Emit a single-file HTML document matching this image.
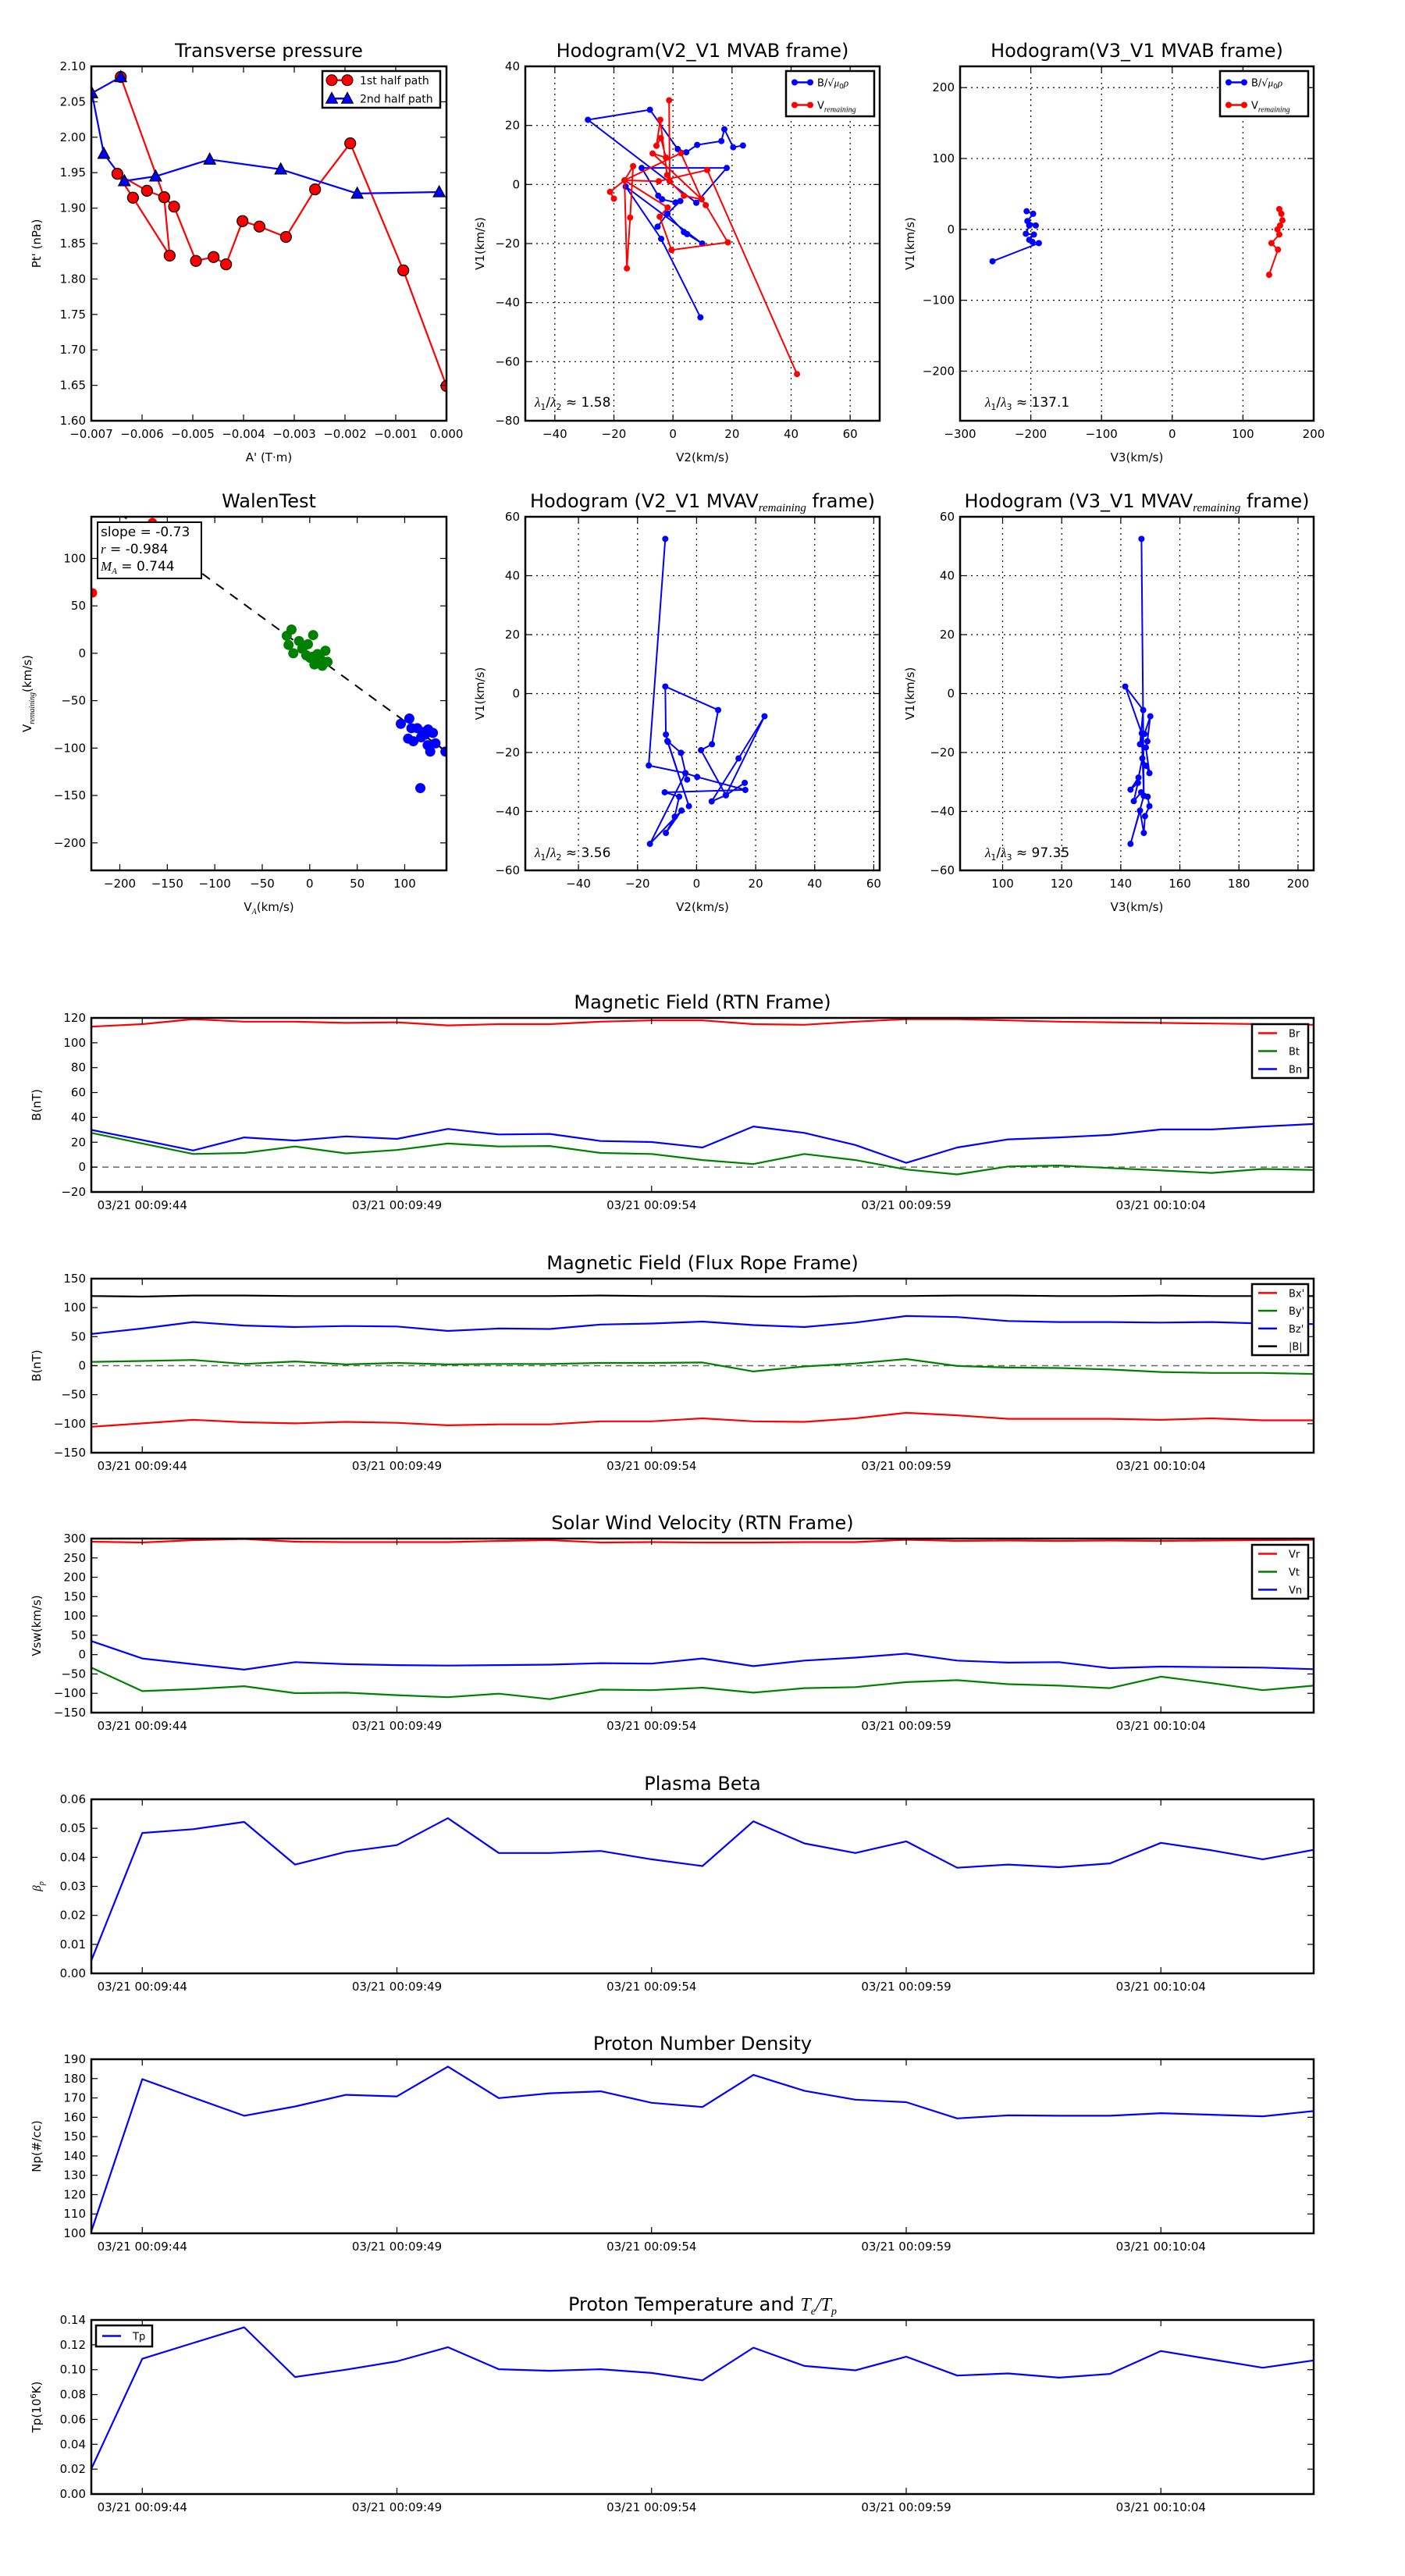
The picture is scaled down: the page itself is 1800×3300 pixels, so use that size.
<!DOCTYPE html>
<html><head><meta charset="utf-8"><style>
html,body{margin:0;padding:0;background:#fff;}
svg{display:block;font-family:"DejaVu Sans","Liberation Sans",sans-serif;}
</style></head><body>
<svg id="fig" xmlns="http://www.w3.org/2000/svg" width="1800" height="3300" viewBox="0 0 1800 3300"></svg>
<script>
// ---------- data ----------
const tpRedA=[-0.00642,-0.005564,-0.005456,-0.006179,-0.006487,-0.005903,-0.005564,-0.005369,-0.004938,-0.00459,-0.004344,-0.00402,-0.003687,-0.003164,-0.00259,-0.001897,-0.000851,0];
const tpRedP=[2.085,1.9154,1.833,1.9147,1.9484,1.9245,1.9154,1.9021,1.8255,1.831,1.8207,1.8817,1.874,1.8593,1.9264,1.9914,1.8122,1.649];
const tpBlueA=[-0.00642,-0.00699,-0.006754,-0.006349,-0.005733,-0.004667,-0.003267,-0.001759,-0.000144];
const tpBlueP=[2.085,2.0622,1.9767,1.9382,1.9448,1.9686,1.9547,1.9206,1.9227];

const h1BlueX=[23.7,20.4,17.4,16.4,8.2,4.5,1.6,-7.8,-28.8,7.9,18.2,-10.6,-5.0,-3.7,0.9,2.5,-1.9,-5.2,-1.9,3.7,4.8,9.9,-16.0,-4.0,9.3];
const h1BlueY=[13.2,12.6,18.7,14.7,13.4,10.9,12.0,25.3,21.9,-6.2,5.6,5.6,-3.8,-5.0,-6.1,-5.6,-9.9,-14.3,-9.9,-16.1,-16.8,-20.0,-0.7,-18.4,-45.0];
const h1RedX=[-20,-21.3,-16.4,-13.5,-14.5,-15.6,-16.4,-1.8,-4.5,-0.5,18.6,11.1,9.7,-6.9,-2.4,-4.1,-5.6,-4.3,-2.0,-1.1,-1.3,-1.1,3.7,9.7,2.7,-16.4,-4.8,11.6,42.0];
const h1RedY=[-4.8,-2.5,1.4,6.2,-11.2,-28.4,1.4,-7.8,-10.9,-22.2,-19.6,-7.0,-5.0,10.5,9.1,15.7,13.1,21.9,3.2,1.1,28.5,1.1,-3.8,-5.0,10.6,1.4,1.1,4.9,-64.2];

const h2BlueX=[-205.9,-196.7,-204.8,-193,-202.2,-207,-195.6,-202.2,-197.8,-188.6,-254.1];
const h2BlueY=[25.6,22,11.7,5.5,5.5,-6.2,-7.3,-14.7,-17.6,-19.4,-45];
const h2RedX=[151.4,154.3,155.8,152.5,148.8,151.4,140.3,149.5,137];
const h2RedY=[28.6,22,12.8,5.5,0,-7.3,-19.4,-28.6,-64.1];

const walenGreenX=[-19.2,-24.2,-22.3,-17.3,-11.3,-8,-1.9,3.6,-3.6,0.5,4.9,8.2,11.5,16.5,18.7,13.2,3.3];
const walenGreenY=[25,18.4,8.8,0,12.9,4.7,9.6,19.2,-2.2,-4.9,-11.8,-0.8,-6.3,2.7,-9.1,-13.2,-3.6];
const walenBlueX=[95.9,104.9,107.1,113.2,118.7,124.7,129.7,103.6,109.1,117.3,124.2,132.4,126.9,142.9,116.5,121.4];
const walenBlueY=[-74.4,-68.9,-79,-79,-83.2,-80.4,-84,-90,-92.8,-88.6,-96.9,-95,-103.7,-103.7,-142.2,-85.9];
const walenRedX=[-228.8,-165.7];
const walenRedY=[63.7,137.8];
const walenSlope=-0.73, walenIntercept=1.4;

const h3X=[-10.6,-16.2,-3.8,0.2,16.5,-10.8,-5.9,-7.4,-10.4,-5.1,-15.8,-3.8,-3.2,-5.3,-9.9,-2.6,-9.7,-10.4,-10.6,7.3,5.2,1.5,9.9,5.1,14.2,23,9.9,16.3];
const h3Y=[52.5,-24.4,-27,-28.3,-32.7,-33.5,-35,-41.8,-47.3,-39.7,-51,-27,-29.2,-20.1,-16.1,-38.2,-16.4,-13.9,2.4,-5.6,-17.2,-19.2,-34.5,-36.6,-22,-7.7,-34.5,-30.3];
const h4X=[147.0,147.8,143.3,146.5,147.8,148.2,149.7,149.1,146.9,144.4,145.8,143.3,146,147.3,148.6,149.7,148.5,149,150,148,146.5,147.6,141.5,147.1,147.8];
const h4Y=[52.5,-34.7,-51,-39.7,-47.3,-41.6,-38.2,-35,-33.5,-36.5,-30.3,-32.6,-28.5,-22,-24.5,-27,-18.3,-16.2,-7.7,-13.7,-17.2,-5.6,2.4,-13.5,-34.7];

// time series (1 s cadence starting 00:09:43)
const tsLabels=["03/21 00:09:44","03/21 00:09:49","03/21 00:09:54","03/21 00:09:59","03/21 00:10:04"];
const tsTickSec=[1,6,11,16,21];
const Br=[113,115,119,117,117,116,116.5,114,115,115,117,118,118,115,114.5,117,119,119,118,117,116.5,116,115.5,115,114.5];
const Bt=[27.5,19,10.6,11.4,16.6,11,13.8,19,16.6,17,11.4,10.6,5.7,2.5,10.6,5.7,-1.9,-5.9,0.5,1.3,-0.7,-2.7,-4.7,-1.5,-2.3];
const Bn=[29.9,21.8,13.4,23.9,21.4,24.7,22.7,30.7,26.3,26.7,21,20.2,15.8,32.7,27.5,17.8,3.4,15.8,22.3,23.9,25.9,30.3,30.3,32.7,34.7];
const Bx=[-105.4,-99.4,-93.3,-97.6,-99.4,-96.8,-98.5,-102.8,-101.1,-101.1,-95.9,-95.9,-90.8,-95.9,-96.8,-90.8,-81.3,-85.6,-91.6,-91.6,-91.6,-93.3,-90.8,-94.2,-94.2];
const By=[6.4,8.1,9.8,3,7.2,2.1,4.7,2.1,3,3,4.7,4.7,5.5,-10,-1.4,3.8,11.5,-0.6,-3.2,-4,-6.6,-10.9,-12.5,-12.5,-14.2];
const Bz=[54.6,64,75.2,69.2,66.6,68.3,67.5,59.8,64,63.2,70.9,72.6,76,70,66.6,74.3,85.5,83.8,76.9,75.2,75.2,74.3,75.2,72.6,71.7];
const Bmag=[120,119,121,121,120,120,120,120,120,120,121,120,120,119,119,120,120,121,121,120,120,121,120,120,120];
const Vr=[292,290,296,299,292,291,291,291,294,296,290,291,290,290,291,291,297,294,295,294,295,294,295,296,297];
const Vt=[-33.6,-94.4,-89.2,-81.5,-99.6,-98.3,-104.8,-110,-100.9,-115.1,-90.5,-91.8,-85.4,-98.3,-86.6,-84,-71.1,-66,-76.3,-80.2,-86.6,-56.9,-73.7,-91.8,-80.2];
const Vn=[35,-10,-24.6,-38.8,-19.4,-24.6,-27.2,-28.4,-27.2,-25.9,-22,-23.3,-10,-29.7,-15.5,-7.8,2.6,-15.5,-20.7,-19.4,-35,-31,-32.3,-33.6,-37.5];
const beta=[0.0044,0.0484,0.0497,0.0522,0.0375,0.0419,0.0442,0.0535,0.0415,0.0415,0.0422,0.0393,0.037,0.0524,0.0448,0.0415,0.0455,0.0364,0.0375,0.0366,0.0379,0.045,0.0424,0.0393,0.0426];
const Np=[101,179.7,170.2,160.8,165.6,171.6,170.8,186.2,169.9,172.4,173.4,167.5,165.3,181.9,173.7,169.1,167.8,159.4,161,160.8,160.8,162.1,161.3,160.5,163.2];
const Tp=[0.0202,0.1088,0.1215,0.1341,0.0941,0.1,0.1067,0.1181,0.1004,0.0991,0.1004,0.0974,0.0915,0.1177,0.103,0.0995,0.1105,0.0953,0.097,0.0936,0.0966,0.115,0.1083,0.1016,0.1075];

// ---------- helpers ----------
const NS='http://www.w3.org/2000/svg';
const fig=document.getElementById('fig');
function mk(tag,a,p){const e=document.createElementNS(NS,tag);for(const k in a)e.setAttribute(k,a[k]);(p||fig).appendChild(e);return e;}
function fmt(v,d){const s=Math.abs(v).toFixed(d);return (v<-1e-12?'\u2212':'')+s;}
function range(a,b,s){const r=[];for(let v=a;v<=b+s*1e-6;v+=s)r.push(+v.toFixed(6));return r;}
let clipN=0;
function axes(c){
  const g=mk('g',{});
  
  
  const x1=c.x0+c.w,y1=c.y0+c.h;
  const sx=v=>c.x0+(v-c.xmin)/(c.xmax-c.xmin)*c.w;
  const sy=v=>y1-(v-c.ymin)/(c.ymax-c.ymin)*c.h;
  const id='clip'+(clipN++);
  const cp=mk('clipPath',{id:id},g);mk('rect',{x:c.x0,y:c.y0,width:c.w,height:c.h},cp);
  const grid=mk('g',{stroke:'#000','stroke-width':1.2,'stroke-dasharray':'2,5'},g);
  
  
  const data=mk('g',{'clip-path':'url(#'+id+')'},g);
  const ticks=mk('g',{stroke:'#000','stroke-width':1.2},g);
  const lab=mk('g',{'font-size':15,fill:'#000'},g);
  c.xt.forEach((v,i)=>{const X=sx(v);
    if(c.grid)mk('line',{x1:X,x2:X,y1:c.y0,y2:y1},grid);
    mk('line',{x1:X,x2:X,y1:y1,y2:y1-8},ticks);mk('line',{x1:X,x2:X,y1:c.y0,y2:c.y0+8},ticks);
    const t=mk('text',{x:X,y:y1+22,'text-anchor':'middle'},lab);t.textContent=c.xl[i];
    
    });
  c.yt.forEach((v,i)=>{const Y=sy(v);
    if(c.grid)mk('line',{x1:c.x0,x2:x1,y1:Y,y2:Y},grid);
    mk('line',{x1:c.x0,x2:c.x0+8,y1:Y,y2:Y},ticks);mk('line',{x1:x1,x2:x1-8,y1:Y,y2:Y},ticks);
    const t=mk('text',{x:c.x0-7,y:Y+5,'text-anchor':'end'},lab);t.textContent=c.yl[i];
    
    });
  const fr=mk('rect',{x:c.x0,y:c.y0,width:c.w,height:c.h,fill:'none',stroke:'#000','stroke-width':2.5},g);
  
  
  const tt=mk('text',{x:c.x0+c.w/2,y:c.y0-12,'text-anchor':'middle','font-size':24},g);tt.innerHTML=c.title;
  
  
  if(c.xlabel){const t=mk('text',{x:c.x0+c.w/2,y:y1+52,'text-anchor':'middle','font-size':15},g);t.innerHTML=c.xlabel;
    
    }
  const yx=c.ylx, yy=c.y0+c.h/2;
  const t=mk('text',{x:yx,y:yy,'text-anchor':'middle','font-size':15,transform:'rotate(-90 '+yx+' '+yy+')'},g);t.innerHTML=c.ylabel;
  
  
  return {sx,sy,data,g};
}
function path(ax,xs,ys,col,w,dash){const pts=xs.map((x,i)=>ax.sx(x).toFixed(1)+','+ax.sy(ys[i]).toFixed(1)).join(' ');
  const a={points:pts,fill:'none',stroke:col,'stroke-width':w||2,'stroke-linejoin':'round'};if(dash)a['stroke-dasharray']=dash;
  return mk('polyline',a,ax.data);}
function dots(ax,xs,ys,col,r,stroke,nm){xs.forEach((x,i)=>{const c=mk('circle',{cx:ax.sx(x),cy:ax.sy(ys[i]),r:r,fill:col,stroke:stroke||col,'stroke-width':stroke?1.2:0},ax.data);
  
  });}
function tris(ax,xs,ys,col,nm){xs.forEach((x,i)=>{const X=ax.sx(x),Y=ax.sy(ys[i]);const p=mk('polygon',{points:(X)+','+(Y-8)+' '+(X-7.5)+','+(Y+6)+' '+(X+7.5)+','+(Y+6),fill:col,stroke:'#000','stroke-width':1.2},ax.data);
  
  });}
function legend(x,y,w,h,items,fs){const g=mk('g',{});
  
  
  mk('rect',{x:x,y:y,width:w,height:h,fill:'#fff',stroke:'#000','stroke-width':2.5},g);
  items.forEach((it,i)=>{const Y=y+h*(i+0.5)/items.length;
    mk('line',{x1:x+8,x2:x+32,y1:Y,y2:Y,stroke:it.c,'stroke-width':2.5},g);
    if(it.m==='dot'){mk('circle',{cx:x+11,cy:Y,r:4,fill:it.c},g);mk('circle',{cx:x+31,cy:Y,r:4,fill:it.c},g);}
    if(it.m==='big'){mk('circle',{cx:x+12,cy:Y,r:7,fill:it.c,stroke:'#000'},g);mk('circle',{cx:x+32,cy:Y,r:7,fill:it.c,stroke:'#000'},g);}
    if(it.m==='tri'){[12,32].forEach(d=>mk('polygon',{points:(x+d)+','+(Y-8)+' '+(x+d-7.5)+','+(Y+6)+' '+(x+d+7.5)+','+(Y+6),fill:it.c,stroke:'#000'},g));}
    const t=mk('text',{x:x+(it.m==='big'||it.m==='tri'?48:(it.m?40:47)),y:Y+5,'font-size':fs||13},g);t.innerHTML=it.t;
    
    });}
function note(x,y,html,fs){const t=mk('text',{x:x,y:y,'font-size':fs||17},fig);t.innerHTML=html;
  
  return t;}
const mathI='font-family="Liberation Serif,serif" font-style="italic"';
const bLabel='B/\u221A<tspan '+mathI+'>\u03BC</tspan><tspan font-size="9" dy="3">0</tspan><tspan '+mathI+' dy="-3">\u03C1</tspan>';
const vLabel='V<tspan '+mathI+' font-size="10" dy="4">remaining</tspan>';

// ---------- top row ----------
let ax=axes({name:'transverse-pressure-plot',x0:117,y0:85,w:455,h:454,xmin:-0.007,xmax:0,ymin:1.6,ymax:2.1,
  xt:range(-0.007,0,0.001),xl:range(-0.007,0,0.001).map(v=>fmt(v,3)),yt:range(1.6,2.1,0.05),yl:range(1.6,2.1,0.05).map(v=>fmt(v,2)),
  title:'Transverse pressure',xlabel:"A' (T\u00B7m)",ylabel:"Pt' (nPa)",ylx:52});
path(ax,tpRedA,tpRedP,'#f00',2.2);path(ax,tpBlueA,tpBlueP,'#00f',2.2);
dots(ax,tpRedA,tpRedP,'#f00',7,'#000','first-half-point');tris(ax,tpBlueA,tpBlueP,'#00f','second-half-point');
legend(413,91,151,47,[{c:'#f00',m:'big',t:'1st half path'},{c:'#00f',m:'tri',t:'2nd half path'}],14);

ax=axes({name:'hodogram-mvab-v2-v1',x0:673,y0:85,w:454,h:454,xmin:-50,xmax:70,ymin:-80,ymax:40,grid:true,
  xt:range(-40,60,20),xl:range(-40,60,20).map(v=>fmt(v,0)),yt:range(-80,40,20),yl:range(-80,40,20).map(v=>fmt(v,0)),
  title:'Hodogram(V2_V1 MVAB frame)',xlabel:'V2(km/s)',ylabel:'V1(km/s)',ylx:620});
path(ax,h1BlueX,h1BlueY,'#00f',2);dots(ax,h1BlueX,h1BlueY,'#00f',4,null,'b-point');
path(ax,h1RedX,h1RedY,'#f00',2);dots(ax,h1RedX,h1RedY,'#f00',4,null,'v-point');
legend(1007,91,113,58,[{c:'#00f',m:'dot',t:bLabel},{c:'#f00',m:'dot',t:vLabel}]);
note(685,521,'<tspan '+mathI+'>\u03BB</tspan><tspan font-size="11" dy="4">1</tspan><tspan dy="-4">/</tspan><tspan '+mathI+'>\u03BB</tspan><tspan font-size="11" dy="4">2</tspan><tspan dy="-4"> \u2248 1.58</tspan>');

ax=axes({name:'hodogram-mvab-v3-v1',x0:1230,y0:85,w:453,h:454,xmin:-300,xmax:200,ymin:-270,ymax:230,grid:true,
  xt:range(-300,200,100),xl:range(-300,200,100).map(v=>fmt(v,0)),yt:range(-200,200,100),yl:range(-200,200,100).map(v=>fmt(v,0)),
  title:'Hodogram(V3_V1 MVAB frame)',xlabel:'V3(km/s)',ylabel:'V1(km/s)',ylx:1171});
path(ax,h2BlueX,h2BlueY,'#00f',2);dots(ax,h2BlueX,h2BlueY,'#00f',4,null,'b-point');
path(ax,h2RedX,h2RedY,'#f00',2);dots(ax,h2RedX,h2RedY,'#f00',4,null,'v-point');
legend(1563,91,113,58,[{c:'#00f',m:'dot',t:bLabel},{c:'#f00',m:'dot',t:vLabel}]);
note(1262,521,'<tspan '+mathI+'>\u03BB</tspan><tspan font-size="11" dy="4">1</tspan><tspan dy="-4">/</tspan><tspan '+mathI+'>\u03BB</tspan><tspan font-size="11" dy="4">3</tspan><tspan dy="-4"> \u2248 137.1</tspan>');

// ---------- second row ----------
ax=axes({name:'walen-test-plot',x0:117,y0:662,w:455,h:453,xmin:-230,xmax:144,ymin:-229,ymax:144,
  xt:range(-200,100,50),xl:range(-200,100,50).map(v=>fmt(v,0)),yt:range(-200,100,50),yl:range(-200,100,50).map(v=>fmt(v,0)),
  title:'WalenTest',xlabel:'V<tspan '+mathI+' font-size="10" dy="4">A</tspan><tspan dy="-4">(km/s)</tspan>',ylabel:'V<tspan '+mathI+' font-size="10" dy="4">remaining</tspan><tspan dy="-4">(km/s)</tspan>',ylx:40});
path(ax,[-230,144],[walenSlope*-230+walenIntercept,walenSlope*144+walenIntercept],'#000',2,'12,10');
dots(ax,walenRedX,walenRedY,'#f00',6,null,'walen-red-point');
dots(ax,walenGreenX,walenGreenY,'#008000',6.5,null,'walen-green-point');
dots(ax,walenBlueX,walenBlueY,'#00f',6.5,null,'walen-blue-point');
(function(){const g=mk('g',{});
  
  
  mk('rect',{x:125,y:669,width:133,height:72,fill:'#fff',stroke:'#000','stroke-width':2},g);
  const lines=['slope = -0.73','<tspan '+mathI+'>r</tspan> = -0.984','<tspan '+mathI+'>M</tspan><tspan '+mathI+' font-size="11" dy="4">A</tspan><tspan dy="-4"> = 0.744</tspan>'];
  lines.forEach((s,i)=>{const t=mk('text',{x:129,y:687+i*22,'font-size':17},g);t.innerHTML=s;});})();

ax=axes({name:'hodogram-mvav-v2-v1',x0:673,y0:662,w:454,h:453,xmin:-58,xmax:62,ymin:-60,ymax:60,grid:true,
  xt:range(-40,60,20),xl:range(-40,60,20).map(v=>fmt(v,0)),yt:range(-60,60,20),yl:range(-60,60,20).map(v=>fmt(v,0)),
  title:'Hodogram (V2_V1 MVAV<tspan '+mathI+' font-size="15" dy="5">remaining</tspan><tspan dy="-5"> frame)</tspan>',xlabel:'V2(km/s)',ylabel:'V1(km/s)',ylx:620});
path(ax,h3X,h3Y,'#00f',2);dots(ax,h3X,h3Y,'#00f',4,null,'v-point');
note(685,1098,'<tspan '+mathI+'>\u03BB</tspan><tspan font-size="11" dy="4">1</tspan><tspan dy="-4">/</tspan><tspan '+mathI+'>\u03BB</tspan><tspan font-size="11" dy="4">2</tspan><tspan dy="-4"> \u2248 3.56</tspan>');

ax=axes({name:'hodogram-mvav-v3-v1',x0:1230,y0:662,w:453,h:453,xmin:85.6,xmax:205.3,ymin:-60,ymax:60,grid:true,
  xt:range(100,200,20),xl:range(100,200,20).map(v=>fmt(v,0)),yt:range(-60,60,20),yl:range(-60,60,20).map(v=>fmt(v,0)),
  title:'Hodogram (V3_V1 MVAV<tspan '+mathI+' font-size="15" dy="5">remaining</tspan><tspan dy="-5"> frame)</tspan>',xlabel:'V3(km/s)',ylabel:'V1(km/s)',ylx:1171});
path(ax,h4X,h4Y,'#00f',2);dots(ax,h4X,h4Y,'#00f',4,null,'v-point');
note(1262,1098,'<tspan '+mathI+'>\u03BB</tspan><tspan font-size="11" dy="4">1</tspan><tspan dy="-4">/</tspan><tspan '+mathI+'>\u03BB</tspan><tspan font-size="11" dy="4">3</tspan><tspan dy="-4"> \u2248 97.35</tspan>');

// ---------- time series ----------
const secs=Br.map((_,i)=>i);
function ts(name,top,ymin,ymax,step,dec,title,ylabel){
  return axes({name:name,x0:117,y0:top,w:1566,h:223,xmin:0,xmax:24,ymin:ymin,ymax:ymax,
   xt:tsTickSec,xl:tsLabels,yt:range(ymin,ymax,step),yl:range(ymin,ymax,step).map(v=>fmt(v,dec)),title:title,ylabel:ylabel,ylx:52});
}
ax=ts('magnetic-field-rtn-plot',1304,-20,120,20,0,'Magnetic Field (RTN Frame)','B(nT)');
path(ax,[0,24],[0,0],'#666',1.5,'8,6');
path(ax,secs,Br,'#f00',2.2);path(ax,secs,Bt,'#008000',2.2);path(ax,secs,Bn,'#00f',2.2);
legend(1604,1312,72,69,[{c:'#f00',t:'Br'},{c:'#008000',t:'Bt'},{c:'#00f',t:'Bn'}]);

ax=ts('magnetic-field-flux-rope-plot',1638,-150,150,50,0,'Magnetic Field (Flux Rope Frame)','B(nT)');
path(ax,[0,24],[0,0],'#666',1.5,'8,6');
path(ax,secs,Bx,'#f00',2.2);path(ax,secs,By,'#008000',2.2);path(ax,secs,Bz,'#00f',2.2);path(ax,secs,Bmag,'#000',2.2);
legend(1604,1645,72,91,[{c:'#f00',t:"Bx'"},{c:'#008000',t:"By'"},{c:'#00f',t:"Bz'"},{c:'#000',t:'|B|'}]);

ax=ts('solar-wind-velocity-plot',1971,-150,300,50,0,'Solar Wind Velocity (RTN Frame)','Vsw(km/s)');
path(ax,secs,Vr,'#f00',2.2);path(ax,secs,Vt,'#008000',2.2);path(ax,secs,Vn,'#00f',2.2);
legend(1604,1979,72,69,[{c:'#f00',t:'Vr'},{c:'#008000',t:'Vt'},{c:'#00f',t:'Vn'}]);

ax=ts('plasma-beta-plot',2305,0,0.06,0.01,2,'Plasma Beta','<tspan '+mathI+'>\u03B2</tspan><tspan font-size="10" '+mathI+' dy="4">p</tspan>');
path(ax,secs,beta,'#00f',2.2);

ax=ts('proton-density-plot',2638,100,190,10,0,'Proton Number Density','Np(#/cc)');
path(ax,secs,Np,'#00f',2.2);

ax=ts('proton-temperature-plot',2972,0,0.14,0.02,2,'Proton Temperature and <tspan '+mathI+'>T</tspan><tspan '+mathI+' font-size="14" dy="5">e</tspan><tspan dy="-5" '+mathI+'>/T</tspan><tspan '+mathI+' font-size="14" dy="5">p</tspan>','Tp(10<tspan font-size="10" dy="-6">6</tspan><tspan dy="6">K)</tspan>');
path(ax,secs,Tp,'#00f',2.2);
legend(123,2979,72,27,[{c:'#00f',t:'Tp'}]);
</script>
</body></html>
